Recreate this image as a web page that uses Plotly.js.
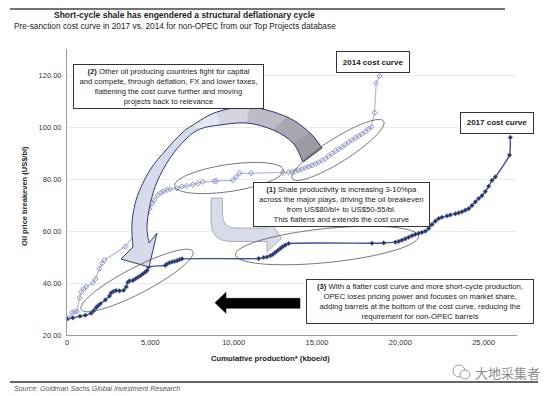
<!DOCTYPE html>
<html><head><meta charset="utf-8">
<script src="https://cdn.plot.ly/plotly-3.0.1.min.js"></script>
<style>html,body{margin:0;padding:0;background:#fff}#chart{width:558px;height:396px}</style>
</head><body><div id="chart"></div>
<script>
// ---- data ----
const x2017 = [0,350,780,1100,1450,1600,1750,1850,2000,2300,2550,2650,2800,2950,3150,3400,3550,3650,3750,3950,4100,4250,4400,4550,4700,4800,4900,5900,6000,6150,6300,6450,6600,6750,6900,11500,11800,12000,12200,12350,12500,12650,12800,12950,13100,13300,18300,19000,19700,19900,20100,20300,20500,20700,20900,21100,21300,21500,21700,21900,22100,22300,22500,22800,23000,23300,23500,23700,23900,24100,24300,24500,24700,24900,25100,25300,25500,25700,26550,26600];
const y2017 = [26.2,26.6,27.2,27.6,28.4,29.3,30.5,31.2,32.0,33.5,35.0,36.2,36.8,37.1,37.0,37.2,38.5,40.3,40.8,41.0,41.6,42.2,42.8,43.5,44.2,44.8,46.2,46.8,47.3,47.8,48.1,48.3,48.6,49.0,49.3,49.4,49.8,50.0,50.5,51.0,51.8,52.5,53.3,54.0,54.6,55.2,55.3,55.4,55.7,56.0,56.5,57.0,57.6,58.2,58.7,59.1,59.5,59.9,61.0,62.5,63.8,64.8,65.3,65.8,66.2,66.6,67.0,67.4,68.0,68.6,69.8,71.2,72.5,73.6,75.2,77.2,79.5,80.8,89.2,96.0];
const x2014 = [100,300,450,600,750,850,1000,1150,1550,1700,1950,2100,2250,3500,4400,4600,4800,4950,5100,5250,5450,5650,5800,6000,6200,6600,6900,7200,7550,7850,8150,8850,8950,9950,10150,10350,11050,12950,13300,13500,13700,13900,14100,14300,14500,14700,14900,15100,15300,15500,15700,15900,16100,16300,16500,16700,16900,17100,17300,17500,17700,17900,18100,18250,18450,18550,18750];
const y2014 = [26.5,28.6,29.0,29.0,34.3,36.5,37.8,38.6,40.0,41.5,45.5,47.5,48.8,54.0,61.5,64.5,66.8,68.5,70.5,72.0,73.8,74.8,75.3,75.8,76.1,76.4,77.1,77.3,77.8,78.3,78.9,79.1,79.3,79.5,80.8,82.2,82.2,82.4,82.6,82.8,83.0,83.3,83.8,84.3,84.8,85.3,85.8,86.5,87.2,87.8,88.8,89.8,90.8,91.5,92.3,93.2,94.2,95.0,95.8,96.6,97.3,98.2,99.2,100.0,105.5,116.8,119.6];
const xTickVals = [0,5000,10000,15000,20000,25000];
const xTickText = ['0','5,000','10,000','15,000','20,000','25,000'];
const yTickVals = [20,40,60,80,100,120];
const yTickText = ['20.00','40.00','60.00','80.00','100.00','120.00'];

// ---- geometry helpers (pixel -> data / paper) ----
const W=558,H=396,ML=67,MR=41,MT=49,MB=61;
const XR=[0,27000], YR=[20,130];
const pw=W-ML-MR, ph=H-MT-MB;
const dx = px => XR[0]+(px-ML)/pw*(XR[1]-XR[0]);
const dy = py => YR[0]+(H-MB-py)/ph*(YR[1]-YR[0]);
const ppx = px => (px-ML)/pw;
const ppy = py => (H-MB-py)/ph;
const P = p => dx(p[0]).toFixed(2)+','+dy(p[1]).toFixed(3);

function crSegs(pts){ // Catmull-Rom -> cubic segments
  const s=[];
  for(let i=0;i<pts.length-1;i++){
    const p0=pts[i-1]||pts[i], p1=pts[i], p2=pts[i+1], p3=pts[i+2]||pts[i+1];
    const c1=[p1[0]+(p2[0]-p0[0])/6, p1[1]+(p2[1]-p0[1])/6];
    const c2=[p2[0]-(p3[0]-p1[0])/6, p2[1]-(p3[1]-p1[1])/6];
    s.push([p1,c1,c2,p2]);
  }
  return s;
}
const C = seg => ' C '+P(seg[1])+' '+P(seg[2])+' '+P(seg[3]);
const Crev = seg => ' C '+P(seg[2])+' '+P(seg[1])+' '+P(seg[0]);

// big curved arrow (2)
const O=[[322,148],[310,133],[287,117],[250,107],[217,112],[193,125],[182,133],[166,150],[150,170],[137,197],[132,223],[133,247]];
const I=[[149,243],[147,227],[150,205],[157,182],[170,158],[186,139],[200,129],[220,125],[247,123],[273,130],[293,143],[303,162]];
const oS=crSegs(O), iS=crSegs(I);
let big='M '+P(O[0]);
oS.forEach(s=>big+=C(s));
big+=' L '+P([121,259])+' L '+P([149,267])+' L '+P([157,233])+' L '+P(I[0]);
iS.forEach(s=>big+=C(s));
big+=' Z';

const bandCols=['#E4E6F0','#D3D5DF','#BBBCC5','#A7A7AF','#9B9BA3'];
const bandShapes=[];
for(let k=0;k<5;k++){
  let d='M '+P(O[5-k])+Crev(oS[4-k])+' L '+P(I[7+k])+Crev(iS[6+k])+' Z';
  bandShapes.push({type:'path',xref:'x',yref:'y',path:d,fillcolor:bandCols[k],line:{color:bandCols[k],width:0.6},layer:'above'});
}

// bent arrow (1)
const bent='M '+P([211,198])+' L '+P([222.5,198])+' L '+P([222.5,214])+' Q '+P([222.5,228])+' '+P([235,228])+
 ' L '+P([267,228])+' L '+P([267.5,217])+' L '+P([281.5,238.5])+' L '+P([267,252])+' L '+P([267,241.5])+
 ' L '+P([231,241.5])+' Q '+P([211,241.5])+' '+P([211,222])+' Z';

// black arrow
const blk='M '+P([215,302.7])+' L '+P([226,292.3])+' L '+P([226,298.3])+' L '+P([300,298.3])+' L '+P([300,308.3])+
 ' L '+P([226,308.3])+' L '+P([226,313.3])+' Z';

function ellipse(cx,cy,a,b,deg){
  const th=deg*Math.PI/180, n=48; let d='';
  for(let i=0;i<=n;i++){
    const t=2*Math.PI*i/n;
    const px=cx+a*Math.cos(t)*Math.cos(th)-b*Math.sin(t)*Math.sin(th);
    const py=cy-(a*Math.cos(t)*Math.sin(th)+b*Math.sin(t)*Math.cos(th));
    d+=(i?' L ':'M ')+P([px,py]);
  }
  return {type:'path',xref:'x',yref:'y',path:d+' Z',line:{color:'#555',width:0.8},fillcolor:'rgba(0,0,0,0)',layer:'above'};
}

const shapes=[
  {type:'path',xref:'x',yref:'y',path:big,fillcolor:'#D7DAEA',line:{width:0},layer:'above'},
  ...bandShapes,
  {type:'path',xref:'x',yref:'y',path:big,fillcolor:'rgba(0,0,0,0)',line:{color:'#2E3C78',width:1},layer:'above'},
  {type:'path',xref:'x',yref:'y',path:bent,fillcolor:'#D8DBE8',line:{color:'#9A9DAD',width:0.8},layer:'above'},
  {type:'path',xref:'x',yref:'y',path:blk,fillcolor:'#000',line:{color:'#000',width:0.5},layer:'above'},
  ellipse(137,280.5,63,13,27.5),
  ellipse(229,178,55,13.5,8.4),
  ellipse(338,150,54,12,32.2),
  ellipse(327,245.5,92,17,5.8),
  {type:'line',xref:'paper',yref:'paper',x0:ppx(10),x1:ppx(505),y0:ppy(9),y1:ppy(9),line:{color:'#444',width:1.5}},
  {type:'line',xref:'paper',yref:'paper',x0:ppx(10),x1:ppx(538),y0:ppy(382),y1:ppy(382),line:{color:'#333',width:1.5}},
  {type:'circle',xref:'paper',yref:'paper',x0:ppx(453),x1:ppx(465),y0:ppy(377),y1:ppy(365),line:{color:'#999',width:1},fillcolor:'#fff'},
  {type:'circle',xref:'paper',yref:'paper',x0:ppx(460),x1:ppx(470),y0:ppy(379),y1:ppy(370),line:{color:'#999',width:1},fillcolor:'#fff'}
];

const F='"Liberation Sans", Arial, sans-serif';
function box(cx,cy,w,h,text,multi){
  return {xref:'paper',yref:'paper',x:ppx(cx),y:ppy(cy),xanchor:'center',yanchor:'middle',text:text,showarrow:false,
    width:w-4,height:multi?41:h-4,bgcolor:'#fff',bordercolor:'#333',borderwidth:1,borderpad:1,align:'center',valign:'middle',
    font:{family:F,size:multi?7.7:8,color:'#222'}};
}
function txt(px,py,text,size,opts){
  return Object.assign({xref:'paper',yref:'paper',x:ppx(px),y:ppy(py),xanchor:'left',yanchor:'middle',text:text,showarrow:false,
    font:{family:F,size:size,color:'#222'}},opts||{});
}
const annotations=[
  txt(52,15,'<b>Short-cycle shale has engendered a structural deflationary cycle</b>',8.5),
  txt(12,26,'Pre-sanction cost curve in 2017 vs. 2014 for non-OPEC from our Top Projects database',8.3),
  box(168,86.2,191,44.3,'<b>(2)</b> Other oil producing countries fight for capital<br>and compete, through deflation, FX and lower taxes,<br>flattening the cost curve further and moving<br>projects back to relevance',true),
  box(372.9,62.2,74.3,22.3,'<b>2014 cost curve</b>'),
  box(497,123.2,74,21.7,'<b>2017 cost curve</b>'),
  box(341,204.8,176.6,43.7,'<b>(1)</b> Shale productivity is increasing 3-10%pa<br>across the major plays, driving the oil breakeven<br>from US$80/bl+ to US$50-55/bl.<br>This flattens and extends the cost curve',true),
  box(420,301.2,228,42.3,'<b>(3)</b> With a flatter cost curve and more short-cycle production,<br>OPEC loses pricing power and focuses on market share,<br>adding barrels at the bottom of the cost curve, reducing the<br>requirement for non-OPEC barrels',true),
  txt(270.5,358,'<b>Cumulative production* (kboe/d)</b>',7.7,{xanchor:'center'}),
  txt(24,196,'<b>Oil price breakeven (US$/bl)</b>',7.5,{xanchor:'center',textangle:-90}),
  txt(12,388,'<i>Source: Goldman Sachs Global Investment Research</i>',7,{font:{family:F,size:7,color:'#555'}}),
  txt(507,372,'大地采集者',13,{xanchor:'center',font:{family:'"Noto Sans CJK SC", sans-serif',size:13,color:'#8a8a8a'}})
];

const traces=[
  {x:x2014,y:y2014,type:'scatter',mode:'lines+markers',name:'2014',
   line:{color:'#B4B9DE',width:1.2},marker:{symbol:'diamond-open',size:4,color:'#8D94C6',line:{width:1}}},
  {x:x2017,y:y2017,type:'scatter',mode:'lines+markers',name:'2017',
   line:{color:'#3D4E95',width:1.4,shape:'spline',smoothing:0.5},marker:{symbol:'diamond',size:3.6,color:'#26346A',line:{color:'#6B78AE',width:0.5}}}
];

const layout={
  width:W,height:H,margin:{l:ML,r:MR,t:MT,b:MB,pad:0},
  paper_bgcolor:'#fff',plot_bgcolor:'#fff',showlegend:false,
  xaxis:{range:XR,tickvals:xTickVals,ticktext:xTickText,showgrid:false,zeroline:false,showline:true,linecolor:'#9a9a9a',linewidth:1,
    ticks:'',tickfont:{family:F,size:7.5,color:'#333'},fixedrange:true},
  yaxis:{range:YR,tickvals:yTickVals,ticktext:yTickText,showgrid:true,gridcolor:'#ECECEC',gridwidth:1,zeroline:false,showline:true,
    linecolor:'#9a9a9a',linewidth:1,ticks:'',ticklabelstandoff:3,tickfont:{family:F,size:7.5,color:'#333'},fixedrange:true},
  shapes:shapes,annotations:annotations
};
Plotly.newPlot('chart',traces,layout,{staticPlot:true,displayModeBar:false});
</script></body></html>
